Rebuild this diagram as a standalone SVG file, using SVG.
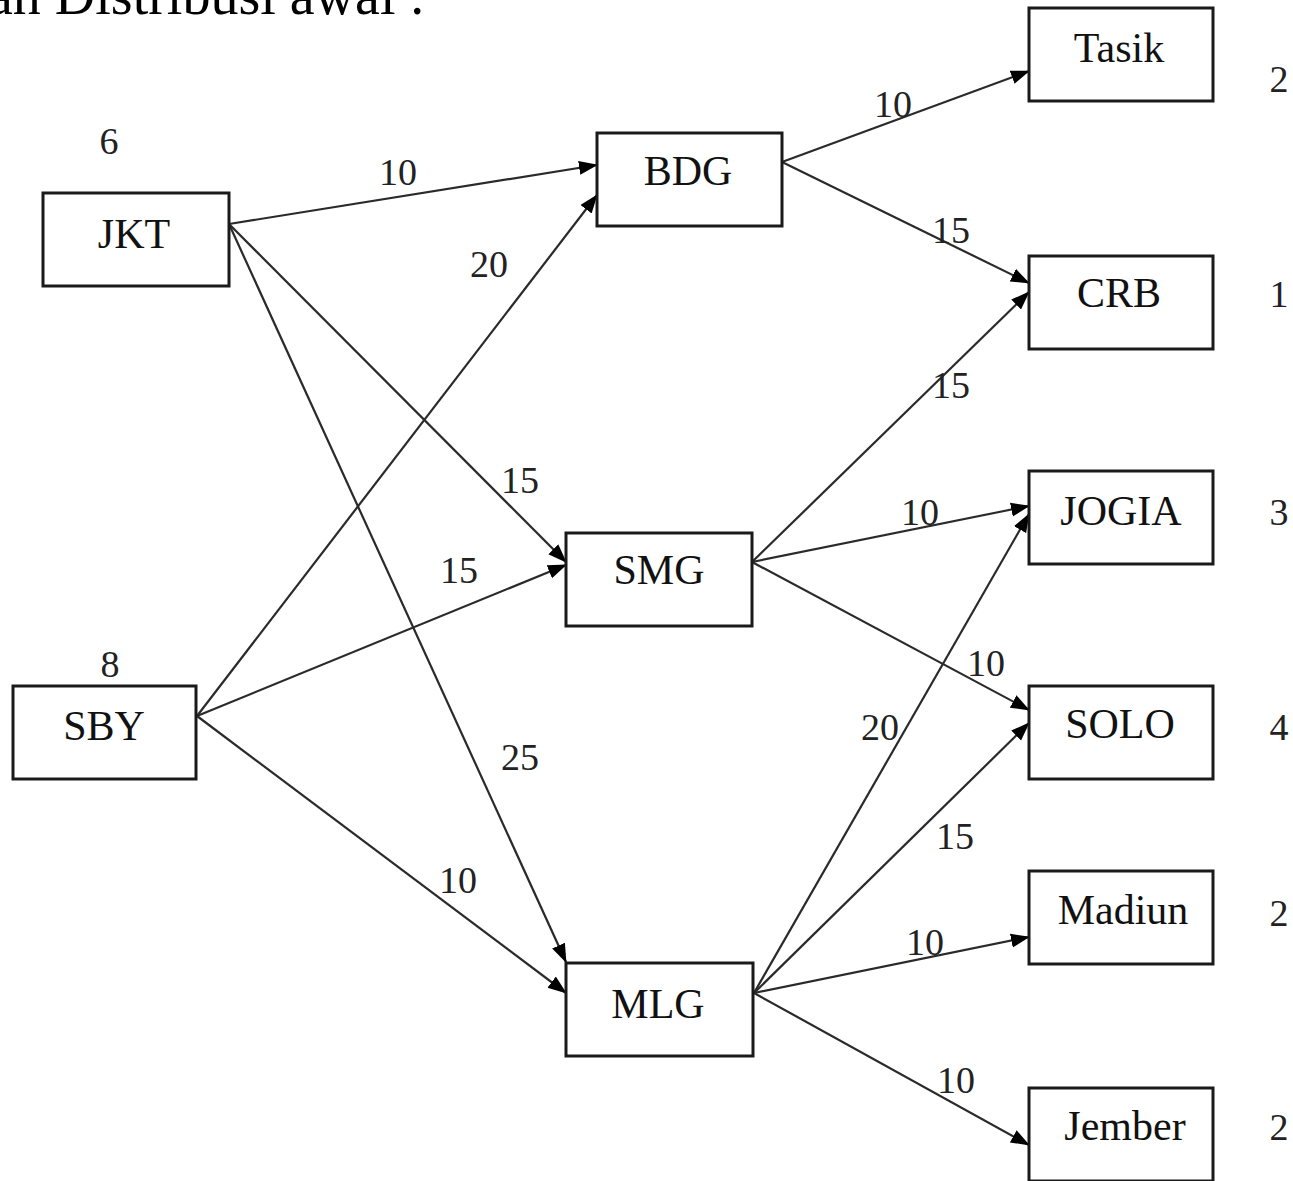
<svg xmlns="http://www.w3.org/2000/svg" width="1293" height="1181" viewBox="0 0 1293 1181">
<style>
.box{fill:#fff;stroke:#1a1a1a;stroke-width:3}
.nl{font-family:"Liberation Serif","Times New Roman",serif;font-size:42px;fill:#111;text-anchor:middle}
.el{font-family:"Liberation Serif","Times New Roman",serif;font-size:38px;fill:#222;text-anchor:middle}
.title{font-family:"Liberation Serif","Times New Roman",serif;font-size:56px;fill:#000}
.edge{stroke:#2a2a2a;stroke-width:2.2;fill:none;marker-end:url(#arr)}
</style>
<defs>
<marker id="arr" markerUnits="userSpaceOnUse" markerWidth="20" markerHeight="16" refX="18" refY="8" orient="auto">
<path d="M0,1 L19,8 L0,15 Z" fill="#000"/>
</marker>
</defs>
<rect width="1293" height="1181" fill="#fff"/>
<text class="title" x="-12" y="14">an Distribusi awal :</text>

<g id="connectors">
<line class="edge" x1="229" y1="224" x2="597" y2="165"/>
<line class="edge" x1="229" y1="224" x2="566" y2="562"/>
<line class="edge" x1="229" y1="224" x2="566" y2="962"/>
<line class="edge" x1="197" y1="716" x2="597" y2="195"/>
<line class="edge" x1="197" y1="716" x2="566" y2="565"/>
<line class="edge" x1="197" y1="716" x2="566" y2="993"/>
<line class="edge" x1="782" y1="162" x2="1029" y2="71"/>
<line class="edge" x1="782" y1="162" x2="1029" y2="283"/>
<line class="edge" x1="752" y1="562" x2="1029" y2="292"/>
<line class="edge" x1="752" y1="562" x2="1029" y2="506"/>
<line class="edge" x1="752" y1="562" x2="1029" y2="710"/>
<line class="edge" x1="754" y1="993" x2="1029" y2="514"/>
<line class="edge" x1="754" y1="993" x2="1029" y2="723"/>
<line class="edge" x1="754" y1="993" x2="1029" y2="937"/>
<line class="edge" x1="754" y1="993" x2="1029" y2="1145"/>
<text class="el" x="398" y="185">10</text>
<text class="el" x="520" y="493">15</text>
<text class="el" x="520" y="770">25</text>
<text class="el" x="489" y="277">20</text>
<text class="el" x="459" y="583">15</text>
<text class="el" x="458" y="893">10</text>
<text class="el" x="893" y="117">10</text>
<text class="el" x="951" y="243">15</text>
<text class="el" x="951" y="398">15</text>
<text class="el" x="920" y="525">10</text>
<text class="el" x="986" y="676">10</text>
<text class="el" x="880" y="740">20</text>
<text class="el" x="955" y="849">15</text>
<text class="el" x="925" y="955">10</text>
<text class="el" x="956" y="1093">10</text>
</g>

<g id="JKT"><rect class="box" x="43" y="193" width="186" height="93"/><text class="nl" x="134" y="248">JKT</text><text class="el" x="109" y="154">6</text></g>
<g id="SBY"><rect class="box" x="13" y="686" width="183" height="93"/><text class="nl" x="104" y="740">SBY</text><text class="el" x="110" y="677">8</text></g>
<g id="BDG"><rect class="box" x="597" y="133" width="185" height="93"/><text class="nl" x="688" y="185">BDG</text></g>
<g id="SMG"><rect class="box" x="566" y="533" width="186" height="93"/><text class="nl" x="659" y="584">SMG</text></g>
<g id="MLG"><rect class="box" x="566" y="963" width="187" height="93"/><text class="nl" x="658" y="1018">MLG</text></g>
<g id="Tasik"><rect class="box" x="1029" y="8" width="184" height="93"/><text class="nl" x="1119" y="62">Tasik</text><text class="el" x="1279" y="92">2</text></g>
<g id="CRB"><rect class="box" x="1029" y="256" width="184" height="93"/><text class="nl" x="1119" y="307">CRB</text><text class="el" x="1279" y="307">1</text></g>
<g id="JOGIA"><rect class="box" x="1029" y="471" width="184" height="93"/><text class="nl" x="1121" y="525">JOGIA</text><text class="el" x="1279" y="525">3</text></g>
<g id="SOLO"><rect class="box" x="1029" y="686" width="184" height="93"/><text class="nl" x="1120" y="738">SOLO</text><text class="el" x="1279" y="740">4</text></g>
<g id="Madiun"><rect class="box" x="1029" y="871" width="184" height="93"/><text class="nl" x="1123" y="924">Madiun</text><text class="el" x="1279" y="926">2</text></g>
<g id="Jember"><rect class="box" x="1029" y="1088" width="184" height="93"/><text class="nl" x="1125" y="1140">Jember</text><text class="el" x="1279" y="1140">2</text></g>
</svg>
